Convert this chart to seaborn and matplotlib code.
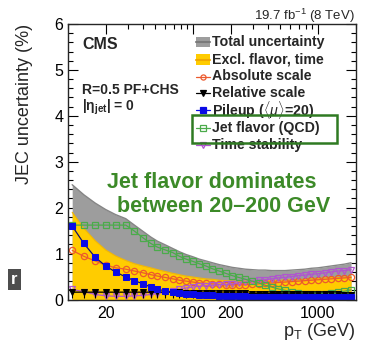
import numpy as np
import pandas as pd
import matplotlib
matplotlib.use("Agg")
import matplotlib.pyplot as plt
import seaborn as sns
from matplotlib.lines import Line2D
from matplotlib.patches import Rectangle
from matplotlib.ticker import FixedLocator, NullFormatter

# ---------------- data ----------------
pt = [10.8, 13.4, 16.5, 20, 24, 29, 34, 40, 46, 52, 60, 69, 78, 88, 100, 112,
      127, 143, 162, 183, 206, 233, 263, 297, 336, 379, 428, 483, 546, 616,
      696, 786, 888, 1003, 1133, 1279, 1444, 1631, 1842]

total_unc = [2.50, 2.28, 2.10, 1.96, 1.85, 1.76, 1.62, 1.48, 1.36, 1.27, 1.19, 1.11,
             1.04, 0.98, 0.93, 0.88, 0.84, 0.80, 0.76, 0.73, 0.70, 0.68, 0.66, 0.65,
             0.64, 0.64, 0.63, 0.63, 0.63, 0.64, 0.65, 0.66, 0.68, 0.69, 0.71, 0.73,
             0.75, 0.77, 0.80]

excl_flavor_time = [1.90, 1.55, 1.28, 1.08, 0.95, 0.85, 0.78, 0.73, 0.69, 0.65, 0.61,
                    0.57, 0.54, 0.51, 0.49, 0.47, 0.45, 0.44, 0.42, 0.41, 0.40, 0.40,
                    0.40, 0.40, 0.40, 0.41, 0.41, 0.42, 0.42, 0.43, 0.43, 0.44, 0.45,
                    0.46, 0.47, 0.48, 0.48, 0.49, 0.50]

absolute_scale = [1.07, 0.94, 0.84, 0.75, 0.69, 0.66, 0.62, 0.58, 0.54, 0.51, 0.48,
                  0.45, 0.42, 0.40, 0.38, 0.36, 0.35, 0.34, 0.33, 0.32, 0.32, 0.32,
                  0.32, 0.33, 0.34, 0.35, 0.36, 0.37, 0.38, 0.39, 0.40, 0.41, 0.42,
                  0.43, 0.44, 0.45, 0.46, 0.47, 0.48]

relative_scale = [0.16, 0.16, 0.16, 0.16, 0.16, 0.16, 0.16, 0.16, 0.16, 0.16, 0.16,
                  0.16, 0.16, 0.15, 0.15, 0.15, 0.15, 0.15, 0.14, 0.14, 0.14, 0.14,
                  0.14, 0.13, 0.13, 0.13, 0.13, 0.13, 0.12, 0.12, 0.12, 0.12, 0.12,
                  0.11, 0.11, 0.11, 0.11, 0.10, 0.10]

pileup = [1.60, 1.22, 0.92, 0.73, 0.60, 0.49, 0.41, 0.34, 0.27, 0.22, 0.19, 0.16,
          0.14, 0.12, 0.11, 0.10, 0.09, 0.09, 0.08, 0.08, 0.07, 0.07, 0.07, 0.06,
          0.06, 0.06, 0.06, 0.06, 0.06, 0.06, 0.06, 0.06, 0.06, 0.06, 0.06, 0.06,
          0.06, 0.06, 0.06]

jet_flavor = [1.62, 1.62, 1.62, 1.62, 1.62, 1.62, 1.49, 1.34, 1.22, 1.14, 1.08, 1.02,
              0.94, 0.88, 0.83, 0.78, 0.73, 0.67, 0.62, 0.57, 0.52, 0.48, 0.44, 0.40,
              0.36, 0.31, 0.27, 0.23, 0.20, 0.17, 0.15, 0.13, 0.12, 0.12, 0.13, 0.14,
              0.16, 0.18, 0.21]

time_stability = [0.22, 0.17, 0.11, 0.08, 0.07, 0.07, 0.08, 0.09, 0.11, 0.13, 0.16,
                  0.19, 0.22, 0.25, 0.27, 0.29, 0.30, 0.31, 0.32, 0.33, 0.34, 0.36,
                  0.38, 0.40, 0.42, 0.43, 0.45, 0.47, 0.48, 0.50, 0.52, 0.53, 0.55,
                  0.56, 0.58, 0.60, 0.62, 0.63, 0.65]

legend_labels = ["Total uncertainty", "Excl. flavor, time", "Absolute scale",
                 "Relative scale", r"Pileup ($\langle\mu\rangle$=20)",
                 "Jet flavor (QCD)", "Time stability"]

x_major = [20, 100, 200, 1000]
x_major_labels = ["20", "100", "200", "1000"]
x_minor = [10, 30, 40, 50, 60, 70, 80, 90, 300, 400, 500, 600, 700, 800, 900, 2000]

df = pd.DataFrame({"pt": pt, "total": total_unc, "excl": excl_flavor_time,
                   "abs": absolute_scale, "rel": relative_scale, "pu": pileup,
                   "flav": jet_flavor, "time": time_stability})

# ---------------- style ----------------
sns.set_style("ticks")
plt.rcParams["font.family"] = ["Liberation Sans", "DejaVu Sans"]
plt.rcParams["mathtext.fontset"] = "custom"
plt.rcParams["mathtext.rm"] = "Liberation Sans"
plt.rcParams["mathtext.it"] = "Liberation Sans:italic"
plt.rcParams["mathtext.bf"] = "Liberation Sans:bold"

W, H = 366, 347
fig = plt.figure(figsize=(W / 100, H / 100), dpi=100)
ax_l, ax_r, ax_t, ax_b = 68, 355.5, 24, 299.5
ax = fig.add_axes([ax_l / W, 1 - ax_b / H, (ax_r - ax_l) / W, (ax_b - ax_t) / H])

def fx(px):
    return px / W

def fy(py):
    return 1 - py / H

GRAY = "#9d9d9d"
GRAY_EDGE = "#858585"
YELLOW = "#ffcc00"
YELLOW_EDGE = "#f5b800"
ORANGE = "#ec5a2e"
BLUE = "#0a0ae6"
GREEN = "#4bab4b"
PURPLE = "#b055cf"
DKGREEN = "#2f7a22"
TXTGREEN = "#3c8a28"

ax.fill_between(df["pt"], 0, df["total"], color=GRAY, lw=0, zorder=1)
sns.lineplot(data=df, x="pt", y="total", color=GRAY_EDGE, lw=1.0, ax=ax, zorder=1.5)
ax.fill_between(df["pt"], 0, df["excl"], color=YELLOW, lw=0, zorder=2)
sns.lineplot(data=df, x="pt", y="excl", color=YELLOW_EDGE, lw=0.8, ax=ax, zorder=2.5)

ms = 4.5
sns.lineplot(data=df, x="pt", y="abs", color=ORANGE, lw=0.9, marker="o", ms=ms,
             markerfacecolor="none", markeredgecolor=ORANGE, markeredgewidth=0.9,
             ax=ax, zorder=4)
sns.lineplot(data=df, x="pt", y="time", color=PURPLE, lw=0.9, marker="v", ms=ms + 0.5,
             markerfacecolor="none", markeredgecolor=PURPLE, markeredgewidth=0.9,
             ax=ax, zorder=4)
sns.lineplot(data=df, x="pt", y="flav", color=GREEN, lw=0.9, marker="s", ms=ms,
             markerfacecolor="none", markeredgecolor=GREEN, markeredgewidth=0.9,
             ax=ax, zorder=4)
ax.vlines(df["pt"], np.array(relative_scale) - 0.12, df["rel"], color="black", lw=0.8, zorder=4.5)
sns.lineplot(data=df, x="pt", y="rel", color="black", lw=0.9, marker="v", ms=ms - 0.4,
             markerfacecolor="black", markeredgecolor="black", ax=ax, zorder=5)
sns.lineplot(data=df, x="pt", y="pu", color="#10106a", lw=0.9, marker="s", ms=ms,
             markerfacecolor=BLUE, markeredgecolor=BLUE, ax=ax, zorder=5)

ax.set_xscale("log")
ax.set_xlim(10, 2000)
ax.set_ylim(0, 6)
ax.xaxis.set_major_locator(FixedLocator(x_major))
ax.set_xticklabels(x_major_labels)
ax.xaxis.set_minor_locator(FixedLocator(x_minor))
ax.xaxis.set_minor_formatter(NullFormatter())
ax.set_yticks(range(0, 7))
ax.set_yticks(np.arange(0, 6.01, 0.2), minor=True)
ax.tick_params(which="both", direction="in", top=True, right=True, width=0.8,
               labelsize=11.5, colors="black")
ax.tick_params(which="major", length=7)
ax.tick_params(which="minor", length=3.5)
ax.tick_params(axis="y", pad=3.5)
ax.tick_params(axis="x", pad=4.5)
for s in ax.spines.values():
    s.set_linewidth(1.0)
    s.set_zorder(10)

ax.set_ylabel("JEC uncertainty (%)", loc="top", fontsize=13)
ax.yaxis.set_label_coords(-0.122, 1.0)
ax.set_xlabel(r"p$_\mathregular{T}$ (GeV)", loc="right", fontsize=13)
ax.xaxis.set_label_coords(1.0, -0.078)

# ---------------- texts ----------------
fig.text(fx(355), fy(20), r"19.7 fb$^\mathregular{-1}$ (8 TeV)", ha="right",
         va="baseline", fontsize=9.5)
fig.text(fx(82), fy(49), "CMS", fontweight="bold", fontsize=11.5, va="baseline")
fig.text(fx(82), fy(94), "R=0.5 PF+CHS", fontweight="bold", fontsize=10, va="baseline")
fig.text(fx(82), fy(111), r"|η$_\mathbf{jet}$| = 0", fontweight="bold", fontsize=10,
         va="baseline")

fig.text(fx(107), fy(188), "Jet flavor dominates", color=TXTGREEN, fontweight="bold",
         fontsize=15.5, va="baseline")
fig.text(fx(117), fy(212), "between 20–200 GeV", color=TXTGREEN, fontweight="bold",
         fontsize=15.5, va="baseline")

# ---------------- manual legend ----------------
leg_y = [42, 59.5, 76.5, 93.5, 110.5, 128, 145]
hx0, hx1, tx = 196, 210, 212
for i, lab in enumerate(legend_labels):
    fig.text(fx(tx), fy(leg_y[i]), lab, fontweight="bold", fontsize=10.2, va="center")

def band_handle(yc, fc, ec):
    fig.add_artist(Rectangle((fx(hx0), fy(yc + 5)), fx(hx1) - fx(hx0), fy(yc - 5) - fy(yc + 5),
                             transform=fig.transFigure, fc=fc, ec="none"))
    fig.add_artist(Line2D([fx(hx0), fx(hx1)], [fy(yc), fy(yc)], transform=fig.transFigure,
                          color=ec, lw=1.5))

band_handle(leg_y[0], GRAY, "#7a7a7a")
band_handle(leg_y[1], YELLOW, "#f0a800")
marker_specs = [(ORANGE, "o", "none", ORANGE), ("black", "v", "black", "black"),
                (BLUE, "s", BLUE, BLUE), (GREEN, "s", "none", GREEN),
                (PURPLE, "v", "none", PURPLE)]
for (c, m, mfc, mec), yc in zip(marker_specs, leg_y[2:]):
    fig.add_artist(Line2D([fx(hx0), fx(hx1)], [fy(yc), fy(yc)], transform=fig.transFigure,
                          color=c, lw=0.9))
    fig.add_artist(Line2D([fx((hx0 + hx1) / 2)], [fy(yc)], transform=fig.transFigure,
                          marker=m, ms=ms - 0.8, markerfacecolor=mfc, markeredgecolor=mec,
                          markeredgewidth=0.9, lw=0))

# green highlight box
fig.add_artist(Rectangle((fx(192), fy(143)), fx(337) - fx(192), fy(115) - fy(143),
                         transform=fig.transFigure, fc="none", ec=DKGREEN, lw=1.8,
                         zorder=20))

# cropped artifact at left edge
fig.add_artist(Rectangle((fx(8), fy(290)), fx(21) - fx(8), fy(269) - fy(290),
                         transform=fig.transFigure, fc="#4d4d4d", ec="none"))
fig.text(fx(14.5), fy(280), "r", color="white", fontweight="bold", fontsize=12,
         ha="center", va="center")

fig.savefig("out.png", dpi=100)
